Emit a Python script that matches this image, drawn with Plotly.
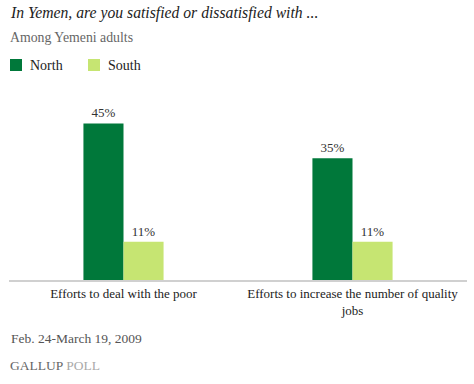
import plotly.graph_objects as go

categories = ["Efforts to deal with the poor", "Efforts to increase the number of quality<br>jobs"]
north = [45, 35]
south = [11, 11]
series_names = ["North", "South"]
colors = ["#00783A", "#C6E572"]

SERIF = "'Liberation Serif', 'Times New Roman', serif"
W, H = 474, 384
ML, MR, MT, MB = 9, 7, 106, 104
PW, PH = W - ML - MR, H - MT - MB


def px(x):
    return (x - ML) / PW


def py(y):
    return 1 - (y - MT) / PH


fig = go.Figure()
for name, vals, col in zip(series_names, [north, south], colors):
    fig.add_trace(go.Bar(x=categories, y=vals, name=name, marker_color=col,
                         marker_line_width=0, showlegend=False,
                         text=[f"{v}%" for v in vals], textposition="outside",
                         textfont=dict(family=SERIF, size=13, color="#333"), cliponaxis=False))

fig.update_layout(
    width=W, height=H,
    margin=dict(l=ML, r=MR, t=MT, b=MB),
    paper_bgcolor="white", plot_bgcolor="white",
    barmode="group", bargap=0.65, bargroupgap=0,
    font=dict(family=SERIF, size=13, color="#333"),
    xaxis=dict(showline=True, linecolor="#d0d0d0", linewidth=2, ticks="", automargin=False,
               tickfont=dict(family=SERIF, size=13, color="#222"), fixedrange=True),
    yaxis=dict(range=[0, 50], visible=False, fixedrange=True, automargin=False),
)

texts = [
    ("<i>In Yemen, are you satisfied or dissatisfied with ...</i>", 8, 13, 15.7, "#222"),
    ("Among Yemeni adults", 8, 37, 13.8, "#666"),
    ("Feb. 24-March 19, 2009", 9, 338, 13.5, "#555"),
    ("<span style='color:#666'>GALLUP</span> <span style='color:#aaa'>POLL</span>", 8, 365, 13.5, "#666"),
]
for t, x, y, s, c in texts:
    fig.add_annotation(text=t, x=px(x), y=py(y), xref="paper", yref="paper", showarrow=False,
                       xanchor="left", yanchor="middle", font=dict(family=SERIF, size=s, color=c))

# legend drawn manually
leg_x = [10, 88]
for name, col, lx in zip(series_names, colors, leg_x):
    fig.add_shape(type="rect", x0=px(lx), x1=px(lx + 12), y0=py(71), y1=py(59),
                  xref="paper", yref="paper", fillcolor=col, line_width=0)
    fig.add_annotation(text=name, x=px(lx + 18), y=py(65), xref="paper", yref="paper",
                       showarrow=False, xanchor="left", yanchor="middle",
                       font=dict(family=SERIF, size=14, color="#222"))

fig.write_html("out.html", config={"displayModeBar": False},
               post_script="document.body.style.margin='0';document.body.style.overflow='hidden';")
